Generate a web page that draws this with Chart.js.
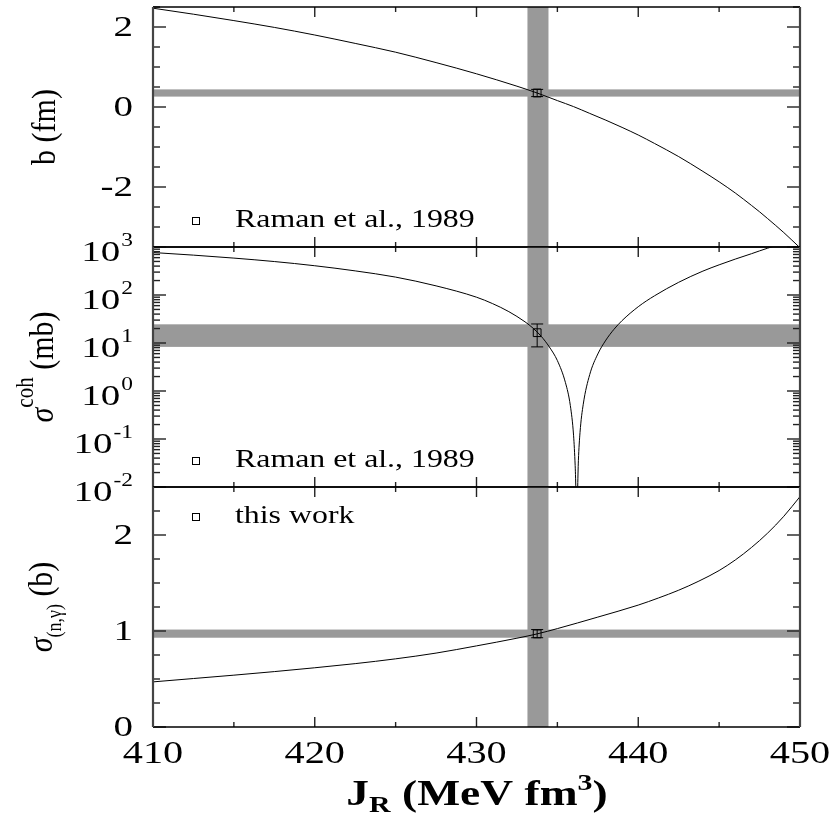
<!DOCTYPE html>
<html>
<head>
<meta charset="utf-8">
<script src="https://cdn.jsdelivr.net/npm/chart.js@4.4.1/dist/chart.umd.min.js"></script>
<style>
  body { margin: 0; background: #fff; }
  #wrap { position: relative; width: 835px; height: 817px; }
  #wrap canvas { position: absolute; left: 0; top: 0; }
</style>
</head>
<body>
<div id="wrap">
  <canvas id="c1" width="835" height="817"></canvas>
  <canvas id="c2" width="835" height="817"></canvas>
  <canvas id="c3" width="835" height="817"></canvas>
</div>
<script>
// ---- data ----
const xMajorTicks = [410, 420, 430, 440, 450];

// panel 1: scattering length b (fm)
const bX = [410, 412.5, 415, 417.5, 420, 422.5, 425, 427.5, 430, 432.5, 433.75, 435, 436, 437, 438, 439, 440, 441, 442.5, 444, 445, 446, 447, 447.5, 448, 449, 450];
const bY = [2.47, 2.32, 2.16, 1.99, 1.80, 1.59, 1.37, 1.11, 0.83, 0.52, 0.35, 0.16, 0.01, -0.16, -0.33, -0.51, -0.70, -0.91, -1.24, -1.61, -1.87, -2.15, -2.46, -2.62, -2.79, -3.14, -3.52];
const bTicks = [-2, 0, 2];
const bBand = [0.26, 0.44];
const bPoint = 0.35, bErr = [0.26, 0.44];

// panel 2: coherent cross section (mb), log axis
const cohX = [410, 412.5, 415, 417.5, 420, 422.5, 425, 427.5, 430, 431, 432, 433, 433.5, 434, 434.5, 435, 435.5, 435.8, 436, 436.1, 436.2, 436.3, 436.4, 436.6, 437, 437.5, 438, 438.5, 439, 440, 441, 442.5, 444, 445, 446, 447, 447.5, 448, 448.6];
const cohY = [767, 677, 587, 498, 407, 318, 236, 155, 90, 66, 45, 27.6, 20.3, 13.8, 8.3, 4.3, 1.49, 0.50, 0.12, 0.028, 0.003, 0.036, 0.137, 0.53, 2.2, 5.9, 11.5, 19.3, 29.3, 57, 96, 184, 315, 425, 560, 725, 830, 945, 1100];
const cohTicks = [0.01, 0.1, 1, 10, 100, 1000];
const cohExp = ['-2', '-1', '0', '1', '2', '3'];
const cohBand = [8.3, 24.5];
const cohPoint = 16.4, cohErr = [8.3, 24.9];

// panel 3: capture cross section (b)
const ngX = [410, 412.5, 415, 417.5, 420, 422.5, 425, 427.5, 430, 432.5, 433.75, 435, 437.5, 440, 441.25, 442.5, 443.75, 445, 446, 447, 448, 449, 450];
const ngY = [0.47, 0.505, 0.54, 0.577, 0.617, 0.66, 0.71, 0.77, 0.845, 0.925, 0.97, 1.025, 1.145, 1.27, 1.344, 1.425, 1.52, 1.63, 1.74, 1.87, 2.02, 2.195, 2.40];
const ngTicks = [0, 1, 2];
const ngBand = [0.93, 1.015];
const ngPoint = 0.97, ngErr = [0.93, 1.015];

const pointX = 433.75;
const jrBand = [433.15, 434.45];

// ---- look ----
const SERIF = '"Liberation Serif", "DejaVu Serif", serif';
const BAND = '#999999';
const STRETCH = 1.3;

function sText(ctx, str, x, y, size, align, style) {
  ctx.save();
  ctx.font = (style || '') + ' ' + size + 'px ' + SERIF;
  ctx.fillStyle = '#000';
  ctx.textBaseline = 'middle';
  ctx.textAlign = align;
  ctx.translate(x, y);
  ctx.scale(STRETCH, 1);
  ctx.fillText(str, 0, 0);
  ctx.restore();
}

// pieces drawn along one baseline; dy < 0 raises
function richText(ctx, pieces, cx, cy, rotated, stretch) {
  ctx.save();
  ctx.translate(cx, cy);
  if (rotated) { ctx.rotate(-Math.PI / 2); ctx.scale(1, stretch); }
  else ctx.scale(stretch, 1);
  let w = 0;
  pieces.forEach(p => { ctx.font = p.font; p.w = ctx.measureText(p.t).width; w += p.w; });
  let x = -w / 2;
  ctx.fillStyle = '#000';
  ctx.textBaseline = 'alphabetic';
  ctx.textAlign = 'left';
  pieces.forEach(p => { ctx.font = p.font; ctx.fillText(p.t, x, p.dy); x += p.w; });
  ctx.restore();
}

function seg(ctx, x1, y1, x2, y2) {
  ctx.beginPath(); ctx.moveTo(x1, y1); ctx.lineTo(x2, y2); ctx.stroke();
}

const decor = {
  id: 'decor',
  beforeDatasetsDraw(chart, args, o) {
    const { ctx, chartArea: a, scales: { x, y } } = chart;
    ctx.save();
    ctx.fillStyle = BAND;
    const y0 = y.getPixelForValue(o.band[0]), y1 = y.getPixelForValue(o.band[1]);
    ctx.fillRect(a.left, Math.min(y0, y1), a.width, Math.abs(y1 - y0));
    const x0 = x.getPixelForValue(jrBand[0]), x1 = x.getPixelForValue(jrBand[1]);
    ctx.fillRect(x0, a.top, x1 - x0, a.height);
    ctx.restore();
  },
  afterDatasetsDraw(chart, args, o) {
    const { ctx, scales: { x, y } } = chart;
    const px = x.getPixelForValue(pointX);
    const lo = y.getPixelForValue(o.err[0]), hi = y.getPixelForValue(o.err[1]);
    ctx.save();
    ctx.strokeStyle = '#000';
    ctx.lineWidth = 1;
    seg(ctx, px, lo, px, hi);
    seg(ctx, px - 6, lo, px + 6, lo);
    seg(ctx, px - 6, hi, px + 6, hi);
    ctx.restore();
  },
  afterDraw(chart, args, o) {
    const { ctx, chartArea: a, scales: { x, y } } = chart;
    ctx.save();
    ctx.strokeStyle = '#222';
    ctx.lineWidth = 1.4;
    // x ticks top and bottom, pointing inwards
    for (let v = 410; v <= 450; v += 5) {
      const p = x.getPixelForValue(v);
      const len = xMajorTicks.includes(v) ? 10 : 5;
      seg(ctx, p, a.top, p, a.top + len);
      seg(ctx, p, a.bottom, p, a.bottom - len);
    }
    // y ticks left and right
    o.major.forEach(v => {
      const p = y.getPixelForValue(v);
      seg(ctx, a.left, p, a.left + 13, p);
      seg(ctx, a.right, p, a.right - 13, p);
    });
    o.minor.forEach(v => {
      const p = y.getPixelForValue(v);
      seg(ctx, a.left, p, a.left + 7, p);
      seg(ctx, a.right, p, a.right - 7, p);
    });
    // frame
    ctx.strokeStyle = '#000';
    ctx.lineWidth = 1.3;
    seg(ctx, a.left, a.top, a.right, a.top);
    seg(ctx, a.left, a.bottom, a.right, a.bottom);
    ctx.strokeStyle = '#444';
    ctx.lineWidth = 2.2;
    seg(ctx, a.left, a.top, a.left, a.bottom);
    seg(ctx, a.right, a.top, a.right, a.bottom);

    // y tick labels
    o.major.forEach((v, i) => {
      const p = y.getPixelForValue(v);
      if (o.exps) {
        ctx.font = '18px ' + SERIF;
        const ew = ctx.measureText(o.exps[i]).width * STRETCH;
        sText(ctx, o.exps[i], 133, p - 6, 18, 'right');
        sText(ctx, '10', 132 - ew, p + 6, 30, 'right');
      } else {
        sText(ctx, o.labels[i], 133, p + 1, 30, 'right');
      }
    });
    // x tick labels and title (bottom panel only)
    if (o.xLabels) {
      xMajorTicks.forEach(v => sText(ctx, String(v), x.getPixelForValue(v), 755, 31, 'center'));
      richText(ctx, [
        { t: 'J', font: 'bold 35px ' + SERIF, dy: 0 },
        { t: 'R', font: 'bold 23px ' + SERIF, dy: 7 },
        { t: ' (MeV fm', font: 'bold 35px ' + SERIF, dy: 0 },
        { t: '3', font: 'bold 23px ' + SERIF, dy: -15 },
        { t: ')', font: 'bold 35px ' + SERIF, dy: 0 }
      ], 477, 805, false, 1.3);
    }
    // legend entry
    ctx.strokeStyle = '#000';
    ctx.lineWidth = 1;
    ctx.strokeRect(a.left + 39.5, o.legendY - 3.5, 7, 7);
    sText(ctx, o.legend, a.left + 82, o.legendY, 24.5, 'left');
    // axis title
    richText(ctx, o.title, o.titleX, a.top + a.height / 2, true, 1.15);
    ctx.restore();
  }
};

function minorSteps(lo, hi, step, majors) {
  const out = [];
  for (let v = lo; v <= hi + 1e-9; v += step) {
    const r = Math.round(v * 1000) / 1000;
    if (!majors.includes(r)) out.push(r);
  }
  return out;
}
const logMinor = [];
for (let k = -2; k <= 2; k++) for (let m = 2; m <= 9; m++) logMinor.push(m * Math.pow(10, k));

function panel(id, top, yScale, xs, ys, pt, deco) {
  const curve = xs.map((v, i) => ({ x: v, y: ys[i] }));
  return new Chart(document.getElementById(id), {
    type: 'line',
    data: {
      datasets: [
        { data: curve, borderColor: '#000', borderWidth: 1, pointRadius: 0, cubicInterpolationMode: 'monotone' },
        { data: [{ x: pointX, y: pt }], showLine: false, pointStyle: 'rect', pointRadius: 5.5,
          pointBorderColor: '#000', pointBackgroundColor: 'rgba(0,0,0,0)', pointBorderWidth: 1 }
      ]
    },
    options: {
      responsive: false,
      animation: false,
      events: [],
      layout: { padding: { left: 153, right: 35, top: top, bottom: 817 - top - 240 } },
      scales: {
        x: { type: 'linear', min: 410, max: 450, display: false },
        y: Object.assign({ display: false }, yScale)
      },
      plugins: { legend: { display: false }, tooltip: { enabled: false }, decor: deco }
    },
    plugins: [decor]
  });
}

panel('c1', 7, { type: 'linear', min: -3.5, max: 2.5 }, bX, bY, bPoint, {
  band: bBand, err: bErr, major: bTicks, labels: ['-2', '0', '2'],
  minor: minorSteps(-3.5, 2.5, 0.5, bTicks),
  legend: 'Raman et al., 1989', legendY: 221, titleX: 55,
  title: [{ t: 'b (fm)', font: '30px ' + SERIF, dy: 0 }]
});

panel('c2', 247, { type: 'logarithmic', min: 0.01, max: 1000 }, cohX, cohY, cohPoint, {
  band: cohBand, err: cohErr, major: cohTicks, exps: cohExp, minor: logMinor,
  legend: 'Raman et al., 1989', legendY: 461, titleX: 53,
  title: [
    { t: 'σ', font: 'italic 30px ' + SERIF, dy: 0 },
    { t: 'coh', font: '21px ' + SERIF, dy: -17 },
    { t: ' (mb)', font: '30px ' + SERIF, dy: 0 }
  ]
});

panel('c3', 487, { type: 'linear', min: 0, max: 2.5 }, ngX, ngY, ngPoint, {
  band: ngBand, err: ngErr, major: ngTicks, labels: ['0', '1', '2'],
  minor: minorSteps(0, 2.5, 0.25, ngTicks),
  legend: 'this work', legendY: 517, titleX: 52, xLabels: true,
  title: [
    { t: 'σ', font: 'italic 30px ' + SERIF, dy: 0 },
    { t: '(n,γ)', font: '18px ' + SERIF, dy: 8 },
    { t: ' (b)', font: '30px ' + SERIF, dy: 0 }
  ]
});
</script>
</body>
</html>
